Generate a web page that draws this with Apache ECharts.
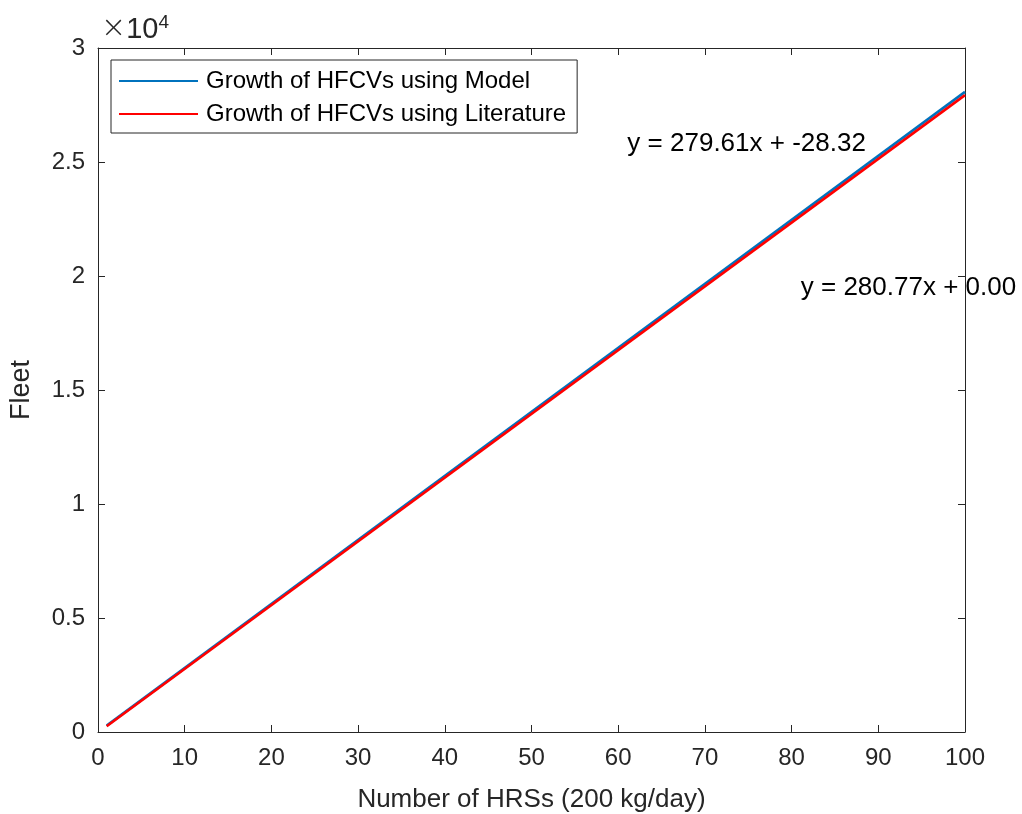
<!DOCTYPE html>
<html>
<head>
<meta charset="utf-8">
<script src="https://cdn.jsdelivr.net/npm/echarts@6/dist/echarts.min.js"></script>
<style>
  html, body { margin: 0; padding: 0; background: #ffffff; }
  #chart { width: 1022px; height: 814px; }
</style>
</head>
<body>
<div id="chart"></div>
<script>
// Number of refuelling stations (x) and resulting vehicle fleet (y)
const hrsCount = [1, 100];
const fleetModel = [281, 28077];
const fleetLiterature = [251, 27933];

// Axis ticks
const xTickValues = [0, 10, 20, 30, 40, 50, 60, 70, 80, 90, 100];
const yTickLabels = ['0', '0.5', '1', '1.5', '2', '2.5', '3'];

// Fitted-line equations, anchored at data coordinates
const noteX = [61, 81];
const noteY = [25810, 19500];
const noteText = ['y = 279.61x + -28.32', 'y = 280.77x + 0.00'];

const FONT = '"Liberation Sans", Arial, Helvetica, sans-serif';
const AXIS_COLOR = '#262626';

const pairs = (xs, ys) => xs.map((x, i) => [x, ys[i]]);

const axisCommon = {
  type: 'value',
  axisLine: { show: true, onZero: false, lineStyle: { color: AXIS_COLOR, width: 1 } },
  axisTick: { show: true, inside: true, length: 7, lineStyle: { color: AXIS_COLOR, width: 1 } },
  splitLine: { show: false }
};

const xRange = { min: xTickValues[0], max: xTickValues[xTickValues.length - 1], interval: 10 };
const yRange = { min: 0, max: 30000, interval: 5000 };

const chart = echarts.init(document.getElementById('chart'), null, { renderer: 'canvas' });

chart.setOption({
  animation: false,
  backgroundColor: '#ffffff',
  textStyle: { fontFamily: FONT },
  grid: { left: 98, right: 57, top: 48, bottom: 82, containLabel: false, outerBoundsMode: 'none' },
  xAxis: [
    Object.assign({}, axisCommon, xRange, {
      position: 'bottom',
      name: 'Number of HRSs (200 kg/day)',
      nameLocation: 'middle',
      nameGap: 55,
      nameTextStyle: { fontSize: 26, color: AXIS_COLOR, fontFamily: FONT },
      axisLabel: { show: true, margin: 14, fontSize: 24, color: AXIS_COLOR, fontFamily: FONT }
    }),
    Object.assign({}, axisCommon, xRange, {
      position: 'top',
      axisLabel: { show: false }
    })
  ],
  yAxis: [
    Object.assign({}, axisCommon, yRange, {
      position: 'left',
      name: 'Fleet',
      nameLocation: 'middle',
      nameGap: 63,
      nameTextStyle: { fontSize: 27, color: AXIS_COLOR, fontFamily: FONT },
      axisLabel: {
        show: true, margin: 13, fontSize: 24, color: AXIS_COLOR, fontFamily: FONT,
        formatter: v => yTickLabels[Math.round(v / 5000)]
      }
    }),
    Object.assign({}, axisCommon, yRange, {
      position: 'right',
      axisLabel: { show: false }
    })
  ],
  legend: {
    show: true,
    orient: 'vertical',
    left: 111,
    top: 60,
    padding: [8, 11, 6, 8],
    itemWidth: 79,
    itemHeight: 2,
    itemGap: 7,
    icon: 'rect',
    borderColor: AXIS_COLOR,
    borderWidth: 1,
    borderRadius: 0,
    backgroundColor: '#ffffff',
    data: ['Growth of HFCVs using Model', 'Growth of HFCVs using Literature'],
    textStyle: { fontSize: 24, lineHeight: 26, color: '#000000', fontFamily: FONT, padding: [0, 0, 0, 3] }
  },
  graphic: [
    {
      type: 'text',
      left: 101,
      top: 13,
      style: {
        text: '{m|×}{b|10}{s|4}',
        rich: {
          m: { fontSize: 30, fill: AXIS_COLOR, fontFamily: '"DejaVu Sans", sans-serif', verticalAlign: 'bottom', fontWeight: 200 },
          b: { fontSize: 29, fill: AXIS_COLOR, fontFamily: FONT, verticalAlign: 'bottom' },
          s: { fontSize: 19, fill: AXIS_COLOR, fontFamily: FONT, verticalAlign: 'top', padding: [0, 0, 12, 0] }
        }
      }
    }
  ],
  series: [
    {
      name: 'Growth of HFCVs using Model',
      type: 'line',
      xAxisIndex: 0,
      yAxisIndex: 0,
      data: pairs(hrsCount, fleetModel),
      color: '#0072BD',
      showSymbol: false,
      symbol: 'none',
      lineStyle: { color: '#0072BD', width: 2.6 },
      z: 3
    },
    {
      name: 'Growth of HFCVs using Literature',
      type: 'line',
      xAxisIndex: 0,
      yAxisIndex: 0,
      data: pairs(hrsCount, fleetLiterature),
      color: '#FF0000',
      showSymbol: false,
      symbol: 'none',
      lineStyle: { color: '#FF0000', width: 2.6 },
      z: 4
    },
    {
      name: 'equations',
      type: 'scatter',
      xAxisIndex: 0,
      yAxisIndex: 0,
      silent: true,
      clip: false,
      symbolSize: 1,
      itemStyle: { color: 'rgba(0,0,0,0)' },
      data: noteX.map((x, i) => [x, noteY[i], noteText[i]]),
      label: {
        show: true,
        position: 'right',
        distance: 0,
        formatter: p => p.data[2],
        fontSize: 26,
        color: '#000000',
        opacity: 1,
        fontFamily: FONT
      },
      emphasis: { disabled: true },
      z: 6
    }
  ]
});
</script>
</body>
</html>
